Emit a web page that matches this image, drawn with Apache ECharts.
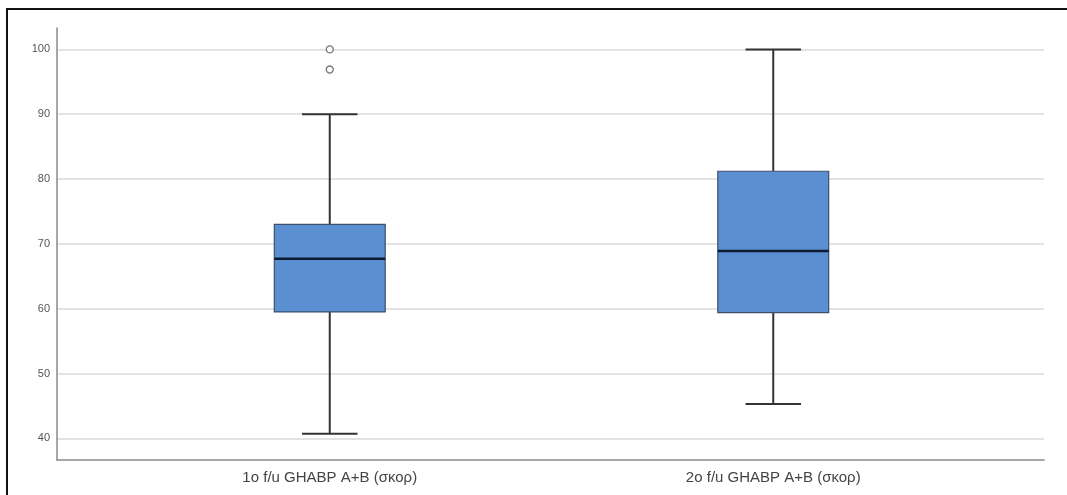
<!DOCTYPE html>
<html>
<head>
<meta charset="utf-8">
<script src="https://cdn.jsdelivr.net/npm/echarts@6/dist/echarts.min.js"></script>
<style>
  html, body { margin: 0; padding: 0; background: #ffffff; }
  #frame { position: absolute; left: 6px; top: 8px; width: 1061px; height: 487px;
           border-top: 2px solid #111; border-left: 2px solid #111; box-sizing: border-box; }
  #chart { position: absolute; left: 0; top: 0; width: 1067px; height: 495px; }
</style>
</head>
<body>
<div id="frame"></div>
<div id="chart"></div>
<script>
const categories = ['1o f/u GHABP A+B (σκορ)', '2o f/u GHABP A+B (σκορ)'];
const lowerWhisker = [40.7, 45.3];
const q1 = [59.5, 59.4];
const median = [67.7, 68.9];
const q3 = [73.0, 81.2];
const upperWhisker = [90, 100];
const outlierCategory = [0, 0];
const outlierValue = [100, 96.9];
const yTicks = [40, 50, 60, 70, 80, 90, 100];

const boxData = categories.map((c, i) => [i, lowerWhisker[i], q1[i], median[i], q3[i], upperWhisker[i]]);
const outlierData = outlierCategory.map((c, i) => [c, outlierValue[i]]);

const yMin = 36.65, yMax = 103.3;

const chart = echarts.init(document.getElementById('chart'), null, { renderer: 'canvas' });

function renderBox(params, api) {
  const idx = api.value(0);
  const band = api.size([1, 0])[0];
  const boxW = band * 0.25;
  const capW = band * 0.125;
  const pLow = api.coord([idx, api.value(1)]);
  const pQ1 = api.coord([idx, api.value(2)]);
  const pMed = api.coord([idx, api.value(3)]);
  const pQ3 = api.coord([idx, api.value(4)]);
  const pHigh = api.coord([idx, api.value(5)]);
  const x = pMed[0];
  const whiskerStyle = { stroke: '#333333', lineWidth: 2 };
  return {
    type: 'group',
    children: [
      { type: 'line', shape: { x1: x, y1: pHigh[1], x2: x, y2: pQ3[1] }, style: whiskerStyle },
      { type: 'line', shape: { x1: x, y1: pQ1[1], x2: x, y2: pLow[1] }, style: whiskerStyle },
      { type: 'line', shape: { x1: x - capW / 2, y1: pHigh[1], x2: x + capW / 2, y2: pHigh[1] }, style: whiskerStyle },
      { type: 'line', shape: { x1: x - capW / 2, y1: pLow[1], x2: x + capW / 2, y2: pLow[1] }, style: whiskerStyle },
      { type: 'rect', shape: { x: x - boxW / 2, y: pQ3[1], width: boxW, height: pQ1[1] - pQ3[1] },
        style: { fill: '#5a8fd2', stroke: '#3d4f6b', lineWidth: 1.2 } },
      { type: 'line', shape: { x1: x - boxW / 2, y1: pMed[1], x2: x + boxW / 2, y2: pMed[1] },
        style: { stroke: '#0e1a30', lineWidth: 2.6 } }
    ]
  };
}

const option = {
  backgroundColor: 'transparent',
  animation: false,
  grid: [
    { left: 57, right: 23, top: 28, bottom: 35 },
    { left: 108, width: 887, top: 28, bottom: 35 }
  ],
  xAxis: [
    { gridIndex: 0, type: 'value', min: 0, max: 1,
      axisLine: { show: true, onZero: false, lineStyle: { color: '#8a8a8a', width: 1.5 } },
      axisTick: { show: false }, axisLabel: { show: false }, splitLine: { show: false } },
    { gridIndex: 1, type: 'category', data: categories, boundaryGap: true,
      axisLine: { show: false }, axisTick: { show: false },
      axisLabel: { color: '#444444', fontSize: 15, fontFamily: 'Liberation Sans, Arial, sans-serif', margin: 10 },
      splitLine: { show: false } }
  ],
  yAxis: [
    { gridIndex: 0, type: 'value', min: yMin, max: yMax, splitNumber: 6,
      axisLine: { show: true, lineStyle: { color: '#8a8a8a', width: 1.5 } },
      axisTick: { show: false },
      axisLabel: { color: '#555555', fontSize: 11, fontFamily: 'Liberation Sans, Arial, sans-serif', margin: 7,
        showMinLabel: false, showMaxLabel: false,
        formatter: v => (yTicks.indexOf(Math.round(v * 100) / 100) >= 0 ? String(v) : '') },
      splitLine: { show: true, showMinLine: false, showMaxLine: false, lineStyle: { color: '#dadada', width: 1.5 } } },
    { gridIndex: 1, type: 'value', min: yMin, max: yMax, show: false, splitLine: { show: false } }
  ],
  series: [
    { type: 'custom', xAxisIndex: 1, yAxisIndex: 1, renderItem: renderBox,
      encode: { x: 0, y: [1, 2, 3, 4, 5] }, data: boxData, z: 5 },
    { type: 'scatter', xAxisIndex: 1, yAxisIndex: 1, data: outlierData, symbol: 'circle', symbolSize: 7,
      itemStyle: { color: '#ffffff', borderColor: '#555555', borderWidth: 1.3 }, z: 6 }
  ]
};
chart.setOption(option);
</script>
</body>
</html>
